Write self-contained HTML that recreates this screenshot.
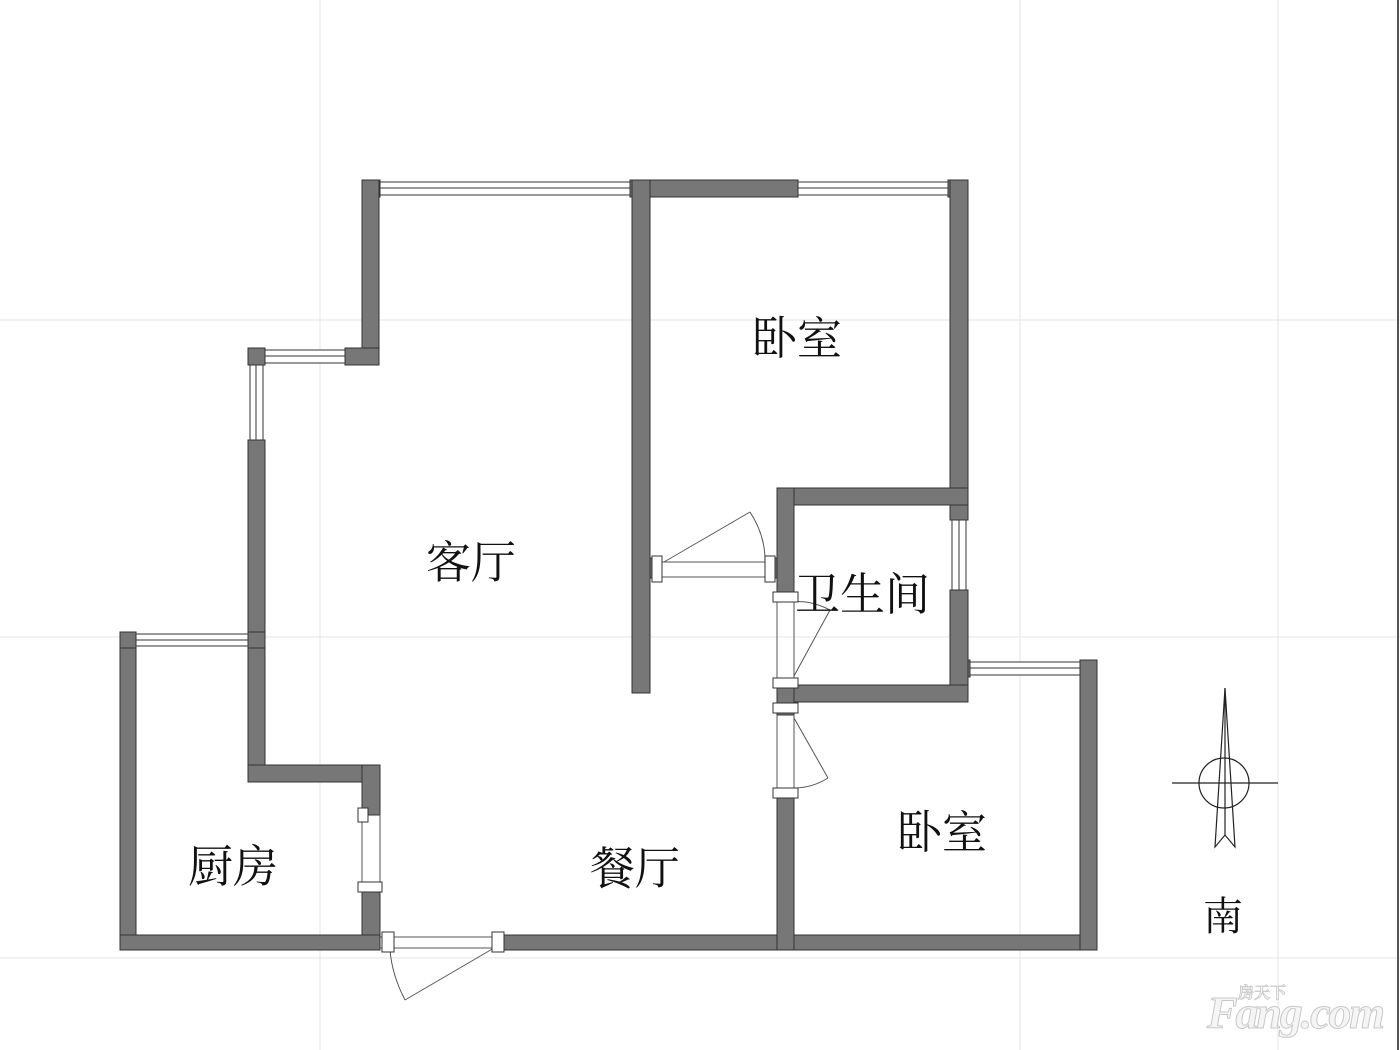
<!DOCTYPE html>
<html><head><meta charset="utf-8"><style>
body{margin:0;background:#fff;}
svg{display:block}
text{font-family:"Liberation Serif","Noto Serif CJK SC",serif;fill:#111}
</style></head><body>
<svg width="1400" height="1050" viewBox="0 0 1400 1050" xmlns="http://www.w3.org/2000/svg">
<g stroke="#e6e6e6" stroke-width="1">
<line x1="320" y1="0" x2="320" y2="1050"/>
<line x1="1020" y1="0" x2="1020" y2="1050"/>
<line x1="1278" y1="0" x2="1278" y2="1050"/>
<line x1="0" y1="320" x2="1400" y2="320"/>
<line x1="0" y1="637" x2="1400" y2="637"/>
<line x1="0" y1="958" x2="1400" y2="958"/>
</g>
<line x1="1398" y1="0" x2="1398" y2="1050" stroke="#555" stroke-width="2"/>
<g fill="#777" stroke="#333" stroke-width="1">
<rect x="362" y="180" width="18" height="17"/>
<rect x="630" y="180" width="168" height="17"/>
<rect x="948" y="180" width="20" height="17"/>
<rect x="632" y="180" width="18" height="513"/>
<rect x="362" y="180" width="17" height="185"/>
<rect x="345" y="348" width="34" height="17"/>
<rect x="248" y="348" width="17" height="17"/>
<rect x="248" y="440" width="17" height="342"/>
<rect x="248" y="765" width="132" height="17"/>
<rect x="362" y="765" width="18" height="50"/>
<rect x="362" y="888" width="18" height="62"/>
<rect x="120" y="632" width="16" height="318"/>
<rect x="120" y="632" width="16" height="16"/>
<rect x="248" y="632" width="17" height="16"/>
<rect x="120" y="935" width="260" height="15"/>
<rect x="500" y="935" width="597" height="15"/>
<rect x="1080" y="660" width="17" height="290"/>
<rect x="950" y="660" width="20" height="17"/>
<rect x="950" y="180" width="18" height="340"/>
<rect x="950" y="590" width="18" height="112"/>
<rect x="777" y="488" width="191" height="17"/>
<rect x="777" y="488" width="17" height="112"/>
<rect x="777" y="685" width="191" height="17"/>
<rect x="777" y="685" width="17" height="30"/>
<rect x="777" y="792" width="17" height="158"/>
<rect x="650" y="558" width="10" height="20"/>
<rect x="767" y="558" width="10" height="20"/>
</g>
<g fill="#fff" stroke="#333" stroke-width="1">
<rect x="380" y="182" width="250" height="13"/>
<rect x="798" y="182" width="150" height="13"/>
<rect x="265" y="350" width="80" height="13"/>
<rect x="250" y="365" width="13" height="75"/>
<rect x="136" y="634" width="112" height="12"/>
<rect x="970" y="662" width="110" height="13"/>
<rect x="952" y="520" width="14" height="70"/>
</g>
<g stroke="#333" stroke-width="1">
<line x1="380" y1="188" x2="630" y2="188"/><line x1="798" y1="188" x2="948" y2="188"/>
<line x1="265" y1="356" x2="345" y2="356"/><line x1="256" y1="365" x2="256" y2="440"/>
<line x1="136" y1="640" x2="248" y2="640"/><line x1="970" y1="668" x2="1080" y2="668"/>
<line x1="959" y1="520" x2="959" y2="590"/>
</g>
<g fill="none" stroke="#555" stroke-width="1">
<line x1="660" y1="562" x2="767" y2="562"/><line x1="660" y1="577" x2="767" y2="577"/>
<line x1="664" y1="562" x2="750" y2="512"/><path d="M750 512 Q765 535 765 560"/>
<line x1="777" y1="600" x2="777" y2="685"/><line x1="794" y1="600" x2="794" y2="685"/>
<line x1="794" y1="676" x2="830" y2="610"/><path d="M830 610 Q810 600 794 602"/>
<line x1="777" y1="715" x2="777" y2="792"/><line x1="794" y1="715" x2="794" y2="792"/>
<line x1="794" y1="718" x2="828" y2="778"/><path d="M828 778 Q812 788 794 788"/>
<line x1="362" y1="815" x2="362" y2="888"/><line x1="380" y1="815" x2="380" y2="888"/>
<line x1="380" y1="937" x2="500" y2="937"/><line x1="380" y1="948" x2="500" y2="948"/>
<line x1="494" y1="948" x2="405" y2="1000"/><path d="M405 1000 Q392 975 390 950"/>
</g>
<g fill="#fff" stroke="#333" stroke-width="1">
<rect x="652" y="556" width="10" height="26"/><rect x="765" y="556" width="10" height="26"/>
<rect x="773" y="592" width="25" height="10"/><rect x="773" y="678" width="25" height="10"/>
<rect x="773" y="703" width="25" height="10"/><rect x="773" y="788" width="25" height="10"/>
<rect x="358" y="808" width="10" height="14"/><rect x="358" y="882" width="24" height="10"/>
<rect x="382" y="932" width="12" height="20"/><rect x="492" y="932" width="12" height="20"/>
</g>
<g font-size="45">
<text x="752" y="354">卧室</text>
<text x="426" y="578">客厅</text>
<text x="795" y="610">卫生间</text>
<text x="897" y="848">卧室</text>
<text x="188" y="882">厨房</text>
<text x="590" y="884">餐厅</text>
<text x="1203" y="930" font-size="40">南</text>
</g>
<g fill="none" stroke="#222" stroke-width="1.2">
<line x1="1172" y1="783" x2="1278" y2="783"/>
<circle cx="1224" cy="783" r="25"/>
<path d="M1225 688 L1215 847 L1225 835 L1235 847 Z"/>
<line x1="1225" y1="688" x2="1225" y2="835"/>
</g>
<text x="1207" y="1028" font-family="Liberation Sans,sans-serif" font-size="46" font-weight="bold" font-style="italic" textLength="178" style="fill:#f5f5f5;stroke:#c8c8c8;stroke-width:1">Fang.com</text>
<text x="1238" y="998" font-family="Liberation Sans,'Noto Sans CJK SC',sans-serif" font-size="16" font-weight="bold" style="fill:#f5f5f5;stroke:#c8c8c8;stroke-width:0.8">房天下</text>
</svg>
</body></html>
